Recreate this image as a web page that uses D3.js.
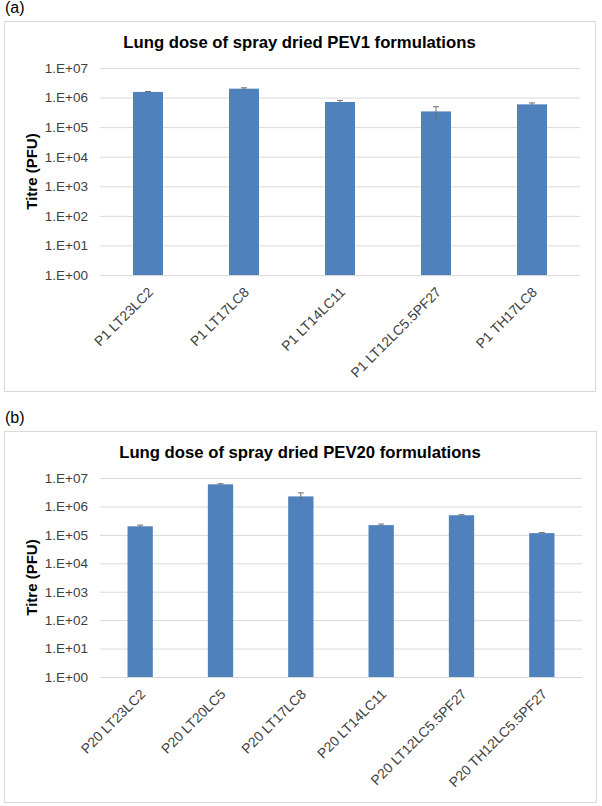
<!DOCTYPE html>
<html><head><meta charset="utf-8">
<script src="https://cdn.jsdelivr.net/npm/d3@7"></script>
<style>
body{margin:0;background:#fff;}
svg{display:block;font-family:"Liberation Sans",Arial,sans-serif;}
</style></head>
<body>
<svg id="chart" width="602" height="806"></svg>
<script>
// ---- data ----
const catsA = ["P1 LT23LC2","P1 LT17LC8","P1 LT14LC11","P1 LT12LC5.5PF27","P1 TH17LC8"];
const valsA = [1.55e6, 2.0e6, 7.1e5, 3.4e5, 5.9e5];
const errA  = [0.05e6, 0.14e6, 0.9e5, 1.5e5, 0.7e5];

const catsB = ["P20 LT23LC2","P20 LT20LC5","P20 LT17LC8","P20 LT14LC11","P20 LT12LC5.5PF27","P20 TH12LC5.5PF27"];
const valsB = [2.0e5, 6.0e6, 2.25e6, 2.2e5, 4.9e5, 1.15e5];
const errB  = [0.2e5, 0.3e6, 0.75e6, 0.2e5, 0.2e5, 0.05e5];

const tickVals = [1e0,1e1,1e2,1e3,1e4,1e5,1e6,1e7];
const tickLabels = ["1.E+00","1.E+01","1.E+02","1.E+03","1.E+04","1.E+05","1.E+06","1.E+07"];

const titleA = "Lung dose of spray dried PEV1 formulations";
const titleB = "Lung dose of spray dried PEV20 formulations";
const yTitle = "Titre (PFU)";

const svg = d3.select("#chart");

function panel(o){
  const g = svg.append("g");
  g.append("text").attr("x",o.fx+1).attr("y",o.fy-8).attr("font-size",16).attr("fill","#000").text(o.tag);
  g.append("rect").attr("x",o.fx+0.5).attr("y",o.fy+0.5).attr("width",o.fw).attr("height",o.fh)
    .attr("fill","#fff").attr("stroke","#d9d9d9").attr("stroke-width",1);
  g.append("text").attr("x",o.fx+o.fw/2).attr("y",o.titleY).attr("text-anchor","middle")
    .attr("font-size",16.7).attr("font-weight","bold").attr("fill","#000").text(o.title);

  const y = d3.scaleLog().domain([1,1e7]).range([o.y0,o.y1]);
  const x = d3.scaleBand().domain(o.cats).range([o.x0,o.x1]).paddingInner(o.pad).paddingOuter(o.pad/2);

  const yAxis = d3.axisLeft(y).tickValues(tickVals).tickFormat((d,i)=>tickLabels[i]).tickSize(-(o.x1-o.x0)).tickPadding(12);
  const ya = g.append("g").attr("transform",`translate(${o.x0},0)`).call(yAxis);
  ya.select(".domain").remove();
  ya.selectAll("line").attr("stroke","#d9d9d9");
  ya.selectAll("text").attr("font-size",13.5).attr("fill","#404040").attr("font-family","Liberation Sans, Arial, sans-serif");

  g.append("text").attr("transform",`translate(${o.yTitleX},${(o.y0+o.y1)/2}) rotate(-90)`)
    .attr("text-anchor","middle").attr("font-size",15).attr("font-weight","bold").attr("fill","#000").text(yTitle);

  g.selectAll("rect.bar").data(o.vals).join("rect").attr("class","bar")
    .attr("x",(d,i)=>x(o.cats[i])).attr("width",x.bandwidth())
    .attr("y",d=>y(d)).attr("height",d=>y(1)-y(d)).attr("fill","#4f81bd");

  const eb = g.selectAll("g.err").data(o.vals).join("g").attr("class","err");
  eb.append("line").attr("x1",(d,i)=>x(o.cats[i])+x.bandwidth()/2).attr("x2",(d,i)=>x(o.cats[i])+x.bandwidth()/2)
    .attr("y1",(d,i)=>y(d+o.errs[i])).attr("y2",(d,i)=>y(Math.max(1,d-o.errs[i])))
    .attr("stroke","#6d6d6d").attr("stroke-width",1);
  eb.append("line").attr("x1",(d,i)=>x(o.cats[i])+x.bandwidth()/2-3).attr("x2",(d,i)=>x(o.cats[i])+x.bandwidth()/2+3)
    .attr("y1",(d,i)=>y(d+o.errs[i])).attr("y2",(d,i)=>y(d+o.errs[i]))
    .attr("stroke","#6d6d6d").attr("stroke-width",1);

  const xa = g.append("g").attr("transform",`translate(0,${o.y0})`).call(d3.axisBottom(x).tickSize(0).tickPadding(0));
  xa.select(".domain").attr("stroke","#d9d9d9");
  xa.selectAll("text").attr("font-size",13.8).attr("fill","#404040").attr("font-family","Liberation Sans, Arial, sans-serif")
    .attr("text-anchor","end").attr("dy",0).attr("transform","translate(6,18) rotate(-45)");
}

panel({tag:"(a)",fx:4,fy:21,fw:591,fh:370,x0:100,x1:580,y0:275,y1:68,titleY:48,yTitleX:37,
  pad:0.6875,cats:catsA,vals:valsA,errs:errA,title:titleA});
panel({tag:"(b)",fx:4,fy:431,fw:592,fh:371,x0:100,x1:582,y0:677,y1:478,titleY:458,yTitleX:37,
  pad:0.685,cats:catsB,vals:valsB,errs:errB,title:titleB});
</script>
</body></html>
